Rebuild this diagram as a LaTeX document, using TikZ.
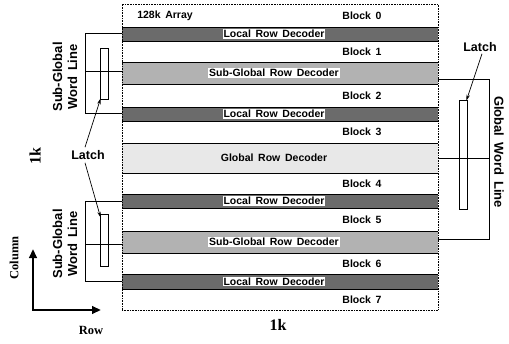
\documentclass[tikz,border=0pt]{standalone}
\usepackage{fontspec}
\setmainfont{Liberation Serif}
\newfontfamily\lab[WordSpace=1.6]{Liberation Sans}
\usetikzlibrary{arrows.meta}
\begin{document}
\begin{tikzpicture}[x=1pt,y=-1pt,
  band/.style={minimum width=316pt, inner sep=0pt, outer sep=0pt},
  lrdband/.style={band, fill=black!58},
  sgband/.style={band, fill=black!30},
  gband/.style={band, fill=black!9},
  edge/.style={line width=0.8pt},
  blab/.style={font=\lab\bfseries\fontsize{10.5}{12}\selectfont, inner sep=1pt},
  dlab/.style={blab, fill=white},
  side/.style={font=\lab\bfseries\fontsize{13}{15}\selectfont, align=center, inner sep=0pt},
  wire/.style={line width=0.9pt},
  latchbox/.style={draw, line width=0.7pt, minimum width=8pt, inner sep=0pt},
  ptr/.style={line width=0.7pt, -{Stealth[length=6pt,width=3.5pt]}},
  axis/.style={line width=2.6pt, line join=miter, {Triangle[length=9pt,width=7.5pt]}-{Triangle[length=9pt,width=7.5pt]}},
  serifb/.style={font=\bfseries\fontsize{12.5}{14}\selectfont, inner sep=0pt}
]
\useasboundingbox (0,0) rectangle (509,343);

% decoder bands
\node[lrdband, minimum height=14pt] (lrd0) at (280,34) {};
\node[sgband,  minimum height=22pt] (sg1)  at (280,73) {};
\node[lrdband, minimum height=14pt] (lrd2) at (280,114) {};
\node[gband,   minimum height=30pt] (g3)   at (280,158) {};
\node[lrdband, minimum height=14pt] (lrd4) at (280,201) {};
\node[sgband,  minimum height=22pt] (sg5)  at (280,242) {};
\node[lrdband, minimum height=15pt] (lrd6) at (280,281.5) {};
\foreach \b in {lrd0,sg1,lrd2,g3,lrd4,sg5,lrd6}{
  \draw[edge] (\b.north west) -- (\b.north east) (\b.south west) -- (\b.south east);
}

% array outline
\node[draw, densely dotted, line width=0.6pt, minimum width=316pt, minimum height=306pt, inner sep=0pt] (arr) at (280,157) {};

% decoder labels
\node[dlab] (t0) at (274,34) {Local Row Decoder};
\node[dlab] (t1) at (274,73) {Sub-Global Row Decoder};
\node[dlab] (t2) at (274,114) {Local Row Decoder};
\node[blab] (t3) at (274,158) {Global Row Decoder};
\node[dlab] (t4) at (274,201) {Local Row Decoder};
\node[dlab] (t5) at (274,242) {Sub-Global Row Decoder};
\node[dlab] (t6) at (274,281.5) {Local Row Decoder};

% block labels
\node[blab] (arrlab) at (165,16) {128k Array};
\node[blab] (b0) at (362,15.5) {Block 0};
\node[blab] (b1) at (362,51.5) {Block 1};
\node[blab] (b2) at (362,95.5) {Block 2};
\node[blab] (b3) at (362,132) {Block 3};
\node[blab] (b4) at (362,183.5) {Block 4};
\node[blab] (b5) at (362,219.5) {Block 5};
\node[blab] (b6) at (362,263.5) {Block 6};
\node[blab] (b7) at (362,299.5) {Block 7};

% left sub-global word lines
\draw[wire] ([yshift=1pt]lrd0.west) -- ++(-37,0) coordinate (ult) |- ([yshift=1pt]lrd2.west);
\draw[wire] ([yshift=2pt]sg1.west) -- ++(-37,0);
\draw[wire] (lrd4.west) -- ++(-37,0) coordinate (llt) |- (lrd6.west);
\draw[wire] ([yshift=-2pt]sg5.west) -- ++(-37,0);
\node[latchbox, minimum height=51pt] (ulatch) at (104,73.5) {};
\node[latchbox, minimum height=52pt] (llatch) at (104,240) {};

% right global word line
\draw[wire] ([yshift=-6pt]sg1.east) -- ++(51,0) coordinate (rt) |- ([yshift=3pt]sg5.east);
\draw[wire] (g3.east) -- ++(51,0);
\node[latchbox, minimum height=109pt] (rlatch) at (463,154.5) {};

% labels
\node[side, rotate=90] (sgl1) at (65,77) {Sub-Global\\Word Line};
\node[side, rotate=90] (sgl2) at (65,244) {Sub-Global\\Word Line};
\node[side, rotate=-90] (gwl) at (499,152) {Global Word Line};
\node[side, font=\lab\bfseries\fontsize{12.5}{14}\selectfont] (latchL) at (88,155) {Latch};
\node[side, font=\lab\bfseries\fontsize{12.5}{14}\selectfont] (latchR) at (480,47) {Latch};
\draw[ptr] ([xshift=-3pt,yshift=3pt]latchL.north) -- ([xshift=1pt,yshift=1pt]ulatch.south west);
\draw[ptr] ([xshift=-3pt,yshift=-3pt]latchL.south) -- ([xshift=1pt,yshift=-4pt]llatch.north west);
\draw[ptr] ([xshift=2pt,yshift=-2pt]latchR.south) -- ([xshift=-1pt,yshift=-1pt]rlatch.north east);

% dimensions
\node[serifb, font=\bfseries\fontsize{16}{18}\selectfont, rotate=90] (k1) at (35,156) {1k};
\node[serifb, font=\bfseries\fontsize{16}{18}\selectfont] (k2) at (278,325) {1k};

% axes
\coordinate (orig) at (33,310);
\coordinate (coltip) at (33,249);
\coordinate (rowtip) at (101,310);
\draw[axis] (coltip) -- (orig) -- (rowtip);
\node[serifb, rotate=90] (colt) at (14,258) {Column};
\node[serifb] (rowt) at (91,330) {Row};
\end{tikzpicture}
\end{document}
